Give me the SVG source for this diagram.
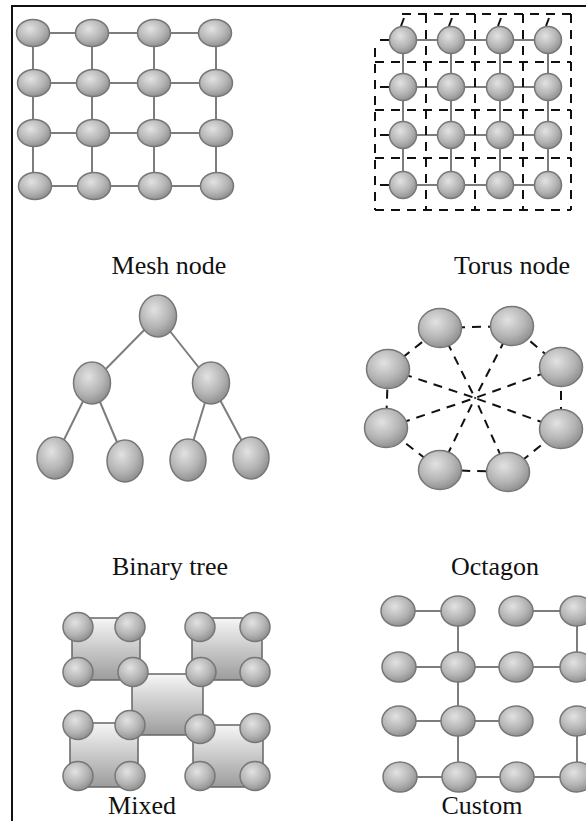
<svg xmlns="http://www.w3.org/2000/svg" width="586" height="821" viewBox="0 0 586 821">
  <defs>
    <radialGradient id="ball" cx="40%" cy="35%" r="70%">
      <stop offset="0" stop-color="#e2e2e2"/>
      <stop offset="0.6" stop-color="#b4b4b4"/>
      <stop offset="1" stop-color="#8a8a8a"/>
    </radialGradient>
    <linearGradient id="tile" x1="0" y1="0" x2="0" y2="1">
      <stop offset="0" stop-color="#f6f6f6"/>
      <stop offset="1" stop-color="#9c9c9c"/>
    </linearGradient>
    <style>
      .n { fill: url(#ball); stroke: #777; stroke-width: 1.5; }
      .sq { fill: url(#tile); stroke: #666; stroke-width: 1.5; }
      .ln { stroke: #7d7d7d; stroke-width: 2; fill: none; }
      .dash { stroke: #111; stroke-width: 2; fill: none; stroke-dasharray: 9 7; }
      .lbl { font-family: "Liberation Serif", "Times New Roman", serif; font-size: 26px; fill: #111; text-anchor: middle; }
      .frame { stroke: #111; stroke-width: 2; fill: none; }
    </style>
  </defs>

  <rect width="586" height="821" fill="#fff"/>

  <!-- page frame -->
  <path class="frame" d="M12 821 V6 H586"/>

  <!-- connectors -->
  <g id="connectors">
    <!-- mesh -->
    <g id="mesh-links">
      <path class="ln" d="M33 33 H216 M34 83 H216 M34 133 H216 M35 186 H216"/>
      <path class="ln" d="M33 33 V186 M92 33 V186 M154 33 V186 M216 33 V186"/>
    </g>
    <!-- torus -->
    <g id="torus-links">
      <path class="ln" d="M403 40 H548 M403 87 H548 M403 135 H548 M403 185 H548"/>
      <path class="ln" d="M403 40 V185 M451 40 V185 M500 40 V185 M548 40 V185"/>
      <path class="dash" d="M375 62 H571 M375 110 H571 M375 158 H571 M375 210 H571"/>
      <path class="dash" d="M426 14 V210 M475 14 V210 M523 14 V210 M571 14 V210 M375 48 V210"/>
      <path class="dash" d="M402 14 H571"/>
      <path class="dash" stroke-dasharray="none" d="M380 40 H390 M380 87 H390 M380 135 H390 M380 185 H390"/>
      <path class="dash" stroke-dasharray="none" d="M401 26 L404 18 M449 26 L452 18 M498 26 L501 18 M546 26 L549 18"/>
    </g>
    <!-- binary tree -->
    <g id="tree-links">
      <path class="ln" d="M158 316 L92 383 M158 316 L211 383 M92 383 L55 458 M92 383 L125 461 M211 383 L188 458 M211 383 L251 458"/>
    </g>
    <!-- octagon -->
    <g id="octagon-links">
      <path class="dash" d="M440 328 L512 326 L561 367 L561 429 L508 472 L440 470 L386 428 L388 369 Z"/>
      <path class="dash" d="M440 328 L475 398 M512 326 L475 398 M561 367 L475 398 M561 429 L475 398 M508 472 L475 398 M440 470 L475 398 M386 428 L475 398 M388 369 L475 398"/>
    </g>
    <!-- custom -->
    <g id="custom-links">
      <path class="ln" d="M398 611 H458 M516 611 H577 M398 667 H577 M398 721 H516 M398 777 H577"/>
      <path class="ln" d="M458 611 V777 M577 611 V667 M577 721 V777"/>
    </g>
  </g>

  <!-- mesh nodes -->
  <g id="mesh">
    <ellipse class="n" cx="33" cy="33" rx="16.5" ry="13.5"/>
    <ellipse class="n" cx="92" cy="33" rx="16.5" ry="13.5"/>
    <ellipse class="n" cx="154" cy="33" rx="16.5" ry="13.5"/>
    <ellipse class="n" cx="215" cy="33" rx="16.5" ry="13.5"/>
    <ellipse class="n" cx="34" cy="83" rx="16.5" ry="13.5"/>
    <ellipse class="n" cx="93" cy="83" rx="16.5" ry="13.5"/>
    <ellipse class="n" cx="154" cy="83" rx="16.5" ry="13.5"/>
    <ellipse class="n" cx="216" cy="83" rx="16.5" ry="13.5"/>
    <ellipse class="n" cx="34" cy="133" rx="16.5" ry="13.5"/>
    <ellipse class="n" cx="93" cy="133" rx="16.5" ry="13.5"/>
    <ellipse class="n" cx="154" cy="133" rx="16.5" ry="13.5"/>
    <ellipse class="n" cx="216" cy="133" rx="16.5" ry="13.5"/>
    <ellipse class="n" cx="35" cy="186" rx="16.5" ry="13.5"/>
    <ellipse class="n" cx="94" cy="186" rx="16.5" ry="13.5"/>
    <ellipse class="n" cx="155" cy="186" rx="16.5" ry="13.5"/>
    <ellipse class="n" cx="217" cy="186" rx="16.5" ry="13.5"/>
    <text class="lbl" x="169" y="274">Mesh node</text>
  </g>

  <!-- torus nodes -->
  <g id="torus">
    <circle class="n" cx="403" cy="40" r="13.5"/>
    <circle class="n" cx="451" cy="40" r="13.5"/>
    <circle class="n" cx="500" cy="40" r="13.5"/>
    <circle class="n" cx="548" cy="40" r="13.5"/>
    <circle class="n" cx="403" cy="87" r="13.5"/>
    <circle class="n" cx="451" cy="87" r="13.5"/>
    <circle class="n" cx="500" cy="87" r="13.5"/>
    <circle class="n" cx="548" cy="87" r="13.5"/>
    <circle class="n" cx="403" cy="135" r="13.5"/>
    <circle class="n" cx="451" cy="135" r="13.5"/>
    <circle class="n" cx="500" cy="135" r="13.5"/>
    <circle class="n" cx="548" cy="135" r="13.5"/>
    <circle class="n" cx="403" cy="185" r="13.5"/>
    <circle class="n" cx="451" cy="185" r="13.5"/>
    <circle class="n" cx="500" cy="185" r="13.5"/>
    <circle class="n" cx="548" cy="185" r="13.5"/>
    <text class="lbl" x="512" y="274">Torus node</text>
  </g>

  <!-- binary tree nodes -->
  <g id="binary-tree">
    <ellipse class="n" cx="158" cy="316" rx="18.5" ry="21"/>
    <ellipse class="n" cx="92" cy="383" rx="18.5" ry="21"/>
    <ellipse class="n" cx="211" cy="383" rx="18.5" ry="21"/>
    <ellipse class="n" cx="55" cy="458" rx="18" ry="21"/>
    <ellipse class="n" cx="125" cy="461" rx="18" ry="21"/>
    <ellipse class="n" cx="188" cy="460" rx="18" ry="21"/>
    <ellipse class="n" cx="251" cy="458" rx="18" ry="21"/>
    <text class="lbl" x="170" y="575">Binary tree</text>
  </g>

  <!-- octagon nodes -->
  <g id="octagon">
    <ellipse class="n" cx="440" cy="328" rx="21.5" ry="19.5"/>
    <ellipse class="n" cx="512" cy="326" rx="21.5" ry="19.5"/>
    <ellipse class="n" cx="561" cy="367" rx="21.5" ry="19.5"/>
    <ellipse class="n" cx="561" cy="429" rx="21.5" ry="19.5"/>
    <ellipse class="n" cx="508" cy="472" rx="21.5" ry="19.5"/>
    <ellipse class="n" cx="440" cy="470" rx="21.5" ry="19.5"/>
    <ellipse class="n" cx="386" cy="428" rx="21.5" ry="19.5"/>
    <ellipse class="n" cx="388" cy="369" rx="21.5" ry="19.5"/>
    <text class="lbl" x="495" y="575">Octagon</text>
  </g>

  <!-- mixed: four clusters around a central tile -->
  <g id="mixed">
    <rect class="sq" x="72" y="618" width="68" height="62"/>
    <rect class="sq" x="192" y="618" width="70" height="62"/>
    <rect class="sq" x="70" y="723" width="68" height="64"/>
    <rect class="sq" x="193" y="725" width="70" height="62"/>
    <rect class="sq" x="132" y="674" width="71" height="61"/>
    <ellipse class="n" cx="78" cy="627" rx="15" ry="14.5"/>
    <ellipse class="n" cx="130" cy="627" rx="15" ry="14.5"/>
    <ellipse class="n" cx="78" cy="672" rx="15" ry="14.5"/>
    <ellipse class="n" cx="133" cy="672" rx="15" ry="14.5"/>
    <ellipse class="n" cx="200" cy="627" rx="15" ry="14.5"/>
    <ellipse class="n" cx="255" cy="627" rx="15" ry="14.5"/>
    <ellipse class="n" cx="201" cy="672" rx="15" ry="14.5"/>
    <ellipse class="n" cx="255" cy="672" rx="15" ry="14.5"/>
    <ellipse class="n" cx="78" cy="725" rx="15" ry="14.5"/>
    <ellipse class="n" cx="130" cy="725" rx="15" ry="14.5"/>
    <ellipse class="n" cx="78" cy="776" rx="15" ry="14.5"/>
    <ellipse class="n" cx="130" cy="776" rx="15" ry="14.5"/>
    <ellipse class="n" cx="200" cy="729" rx="15" ry="14.5"/>
    <ellipse class="n" cx="255" cy="728" rx="15" ry="14.5"/>
    <ellipse class="n" cx="200" cy="776" rx="15" ry="14.5"/>
    <ellipse class="n" cx="255" cy="776" rx="15" ry="14.5"/>
    <text class="lbl" x="142" y="814">Mixed</text>
  </g>

  <!-- custom -->
  <g id="custom">
    <ellipse class="n" cx="398" cy="611" rx="17" ry="15"/>
    <ellipse class="n" cx="458" cy="611" rx="17" ry="15"/>
    <ellipse class="n" cx="516" cy="611" rx="17" ry="15"/>
    <ellipse class="n" cx="577" cy="611" rx="17" ry="15"/>
    <ellipse class="n" cx="399" cy="667" rx="17" ry="15"/>
    <ellipse class="n" cx="458" cy="667" rx="17" ry="15"/>
    <ellipse class="n" cx="516" cy="667" rx="17" ry="15"/>
    <ellipse class="n" cx="577" cy="667" rx="17" ry="15"/>
    <ellipse class="n" cx="399" cy="721" rx="17" ry="15"/>
    <ellipse class="n" cx="458" cy="721" rx="17" ry="15"/>
    <ellipse class="n" cx="516" cy="721" rx="17" ry="15"/>
    <ellipse class="n" cx="577" cy="721" rx="17" ry="15"/>
    <ellipse class="n" cx="400" cy="777" rx="17" ry="15"/>
    <ellipse class="n" cx="459" cy="777" rx="17" ry="15"/>
    <ellipse class="n" cx="517" cy="777" rx="17" ry="15"/>
    <ellipse class="n" cx="577" cy="777" rx="17" ry="15"/>
    <text class="lbl" x="482" y="814">Custom</text>
  </g>
</svg>
